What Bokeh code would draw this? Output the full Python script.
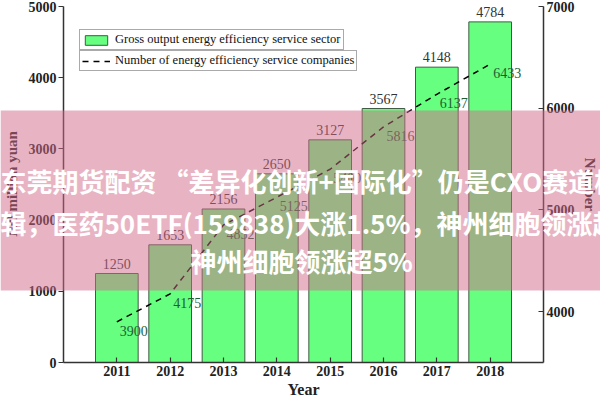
from bokeh.plotting import figure
from bokeh.models import (Range1d, LinearAxis, FixedTicker, ColumnDataSource, LabelSet,
                          Legend, LegendItem, BoxAnnotation, Label)
from bokeh.embed import file_html
from bokeh.resources import INLINE

years = [2011, 2012, 2013, 2014, 2015, 2016, 2017, 2018]
gross_output = [1250, 1653, 2156, 2650, 3127, 3567, 4148, 4784]
companies = [3900, 4175, 4852, 5125, 5400, 5816, 6137, 6433]
left_ticks = [0, 1000, 2000, 3000, 4000, 5000]
right_ticks = [4000, 5000, 6000, 7000]
bar_legend = "Gross output energy efficiency service sector"
line_legend = "Number of energy efficiency service companies"
banner_lines = ["东莞期货配资 “差异化创新+国际化”仍是CXO赛道核心逻",
                "辑，医药50ETF(159838)大涨1.5%，神州细胞领涨超5%",
                "神州细胞领涨超5%"]

SERIF = "Liberation Serif"

src = ColumnDataSource(dict(
    year=years, gross=gross_output, comp=companies,
    gross_txt=[str(v) for v in gross_output],
    comp_txt=[str(v) for v in companies],
))

p = figure(width=600, height=400, output_backend="svg", toolbar_location=None,
           x_range=Range1d(2010, 2019), y_range=Range1d(0, 5000),
           min_border_left=62, min_border_right=55, min_border_top=6, min_border_bottom=35)
p.styles = {"position": "absolute", "left": "0px", "top": "0px"}
p.extra_y_ranges = {"right": Range1d(3500, 7000)}
p.outline_line_color = None
p.xgrid.visible = False
p.ygrid.visible = False
p.background_fill_color = "white"
p.border_fill_color = "white"

bars = p.vbar(x="year", top="gross", width=0.8, source=src,
              fill_color="#66FF80", line_color="#3F5A44", line_width=1)
line = p.line(x="year", y="comp", source=src, y_range_name="right",
              line_color="black", line_width=1.5, line_dash="6 5")

right_axis = LinearAxis(y_range_name="right", ticker=FixedTicker(ticks=right_ticks),
                        axis_label="Number")
p.add_layout(right_axis, "right")

for ax in [p.xaxis[0], p.yaxis[0], right_axis]:
    ax.axis_line_color = "#333333"
    ax.axis_line_width = 1.5
    ax.major_tick_line_color = "#333333"
    ax.major_tick_line_width = 1.2
    ax.minor_tick_line_color = None
    ax.major_label_text_font = SERIF
    ax.major_label_text_font_style = "bold"
    ax.major_label_text_font_size = "14px"
    ax.major_label_text_color = "#222222"
    ax.axis_label_text_font = SERIF
    ax.axis_label_text_font_style = "bold"
    ax.axis_label_text_color = "#222222"

p.xaxis.ticker = FixedTicker(ticks=years)
p.xaxis.major_tick_in = 5
p.xaxis.major_tick_out = 0
p.xaxis.major_label_standoff = 3
p.xaxis.axis_label = "Year"
p.xaxis.axis_label_text_font_size = "16px"
p.xaxis.axis_label_standoff = 2

p.yaxis[0].ticker = FixedTicker(ticks=left_ticks)
p.yaxis[0].major_tick_in = 0
p.yaxis[0].major_tick_out = 5
p.yaxis[0].major_label_standoff = 2
p.yaxis[0].axis_label = "100 million yuan"
p.yaxis[0].axis_label_text_font_size = "15px"
p.yaxis[0].axis_label_standoff = 6

right_axis.major_tick_in = 5
right_axis.major_tick_out = 0
right_axis.major_label_standoff = 3
right_axis.axis_label_text_font_size = "15px"
right_axis.axis_label_standoff = 4

bar_labels = LabelSet(x="year", y="gross", text="gross_txt", source=src,
                      text_align="center", text_baseline="middle", y_offset=10,
                      text_font=SERIF, text_font_size="14px", text_color="#333333")
line_labels = LabelSet(x="year", y="comp", text="comp_txt", source=src, y_range_name="right",
                       text_align="center", text_baseline="middle", x_offset=17, y_offset=-9,
                       text_font=SERIF, text_font_size="14px", text_color="#1F5E32")
p.add_layout(bar_labels)
p.add_layout(line_labels)

def make_legend(label, rend, loc):
    lg = Legend(items=[LegendItem(label=label, renderers=[rend])], location=loc,
                border_line_color="#555555", border_line_width=1,
                background_fill_color="white", background_fill_alpha=1,
                padding=2, margin=0, spacing=0, glyph_width=28, glyph_height=12,
                label_height=12, label_standoff=5,
                label_text_font=SERIF, label_text_font_size="12.5px",
                label_text_color="#111111")
    return lg

p.add_layout(make_legend(bar_legend, bars, (16, 312)), "center")
p.add_layout(make_legend(line_legend, line, (16, 291)), "center")

# transparent overlay figure covering the whole canvas, for the pink banner
q = figure(width=600, height=400, output_backend="svg", toolbar_location=None,
           x_range=Range1d(0, 600), y_range=Range1d(400, 0),
           min_border=0, min_border_left=0, min_border_right=0,
           min_border_top=0, min_border_bottom=0)
q.styles = {"position": "absolute", "left": "0px", "top": "0px"}
q.axis.visible = False
q.grid.visible = False
q.outline_line_color = None
q.background_fill_alpha = 0
q.border_fill_alpha = 0

band = BoxAnnotation(left=0, right=600, top=110, bottom=290,
                     left_units="canvas", right_units="canvas",
                     top_units="canvas", bottom_units="canvas",
                     fill_color="#D1698A", fill_alpha=0.5, line_color=None)
q.add_layout(band)

for txt, x, y in zip(banner_lines, [0, 0, 190], [180, 222, 260]):
    q.add_layout(Label(x=x, y=y, x_units="canvas", y_units="canvas", text=txt,
                       text_font="Noto Sans CJK SC", text_font_style="bold",
                       text_font_size="26px", text_color="white",
                       text_align="left", text_baseline="middle"))

open("out.html", "w").write(file_html([p, q], INLINE))
